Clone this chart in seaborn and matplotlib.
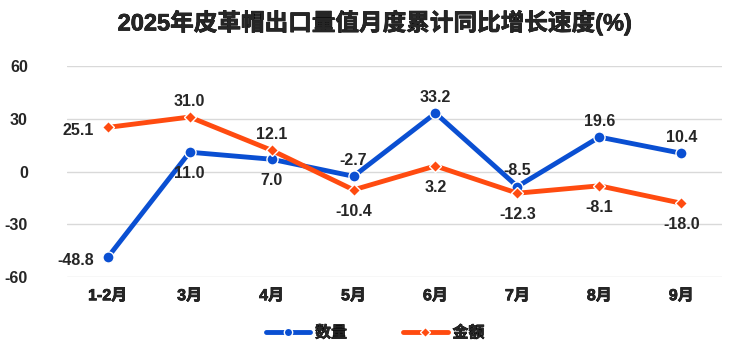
import seaborn as sns
import pandas as pd
import matplotlib.pyplot as plt
import matplotlib.patheffects as pe

months = ['1-2月', '3月', '4月', '5月', '6月', '7月', '8月', '9月']
qty = [-48.8, 11.0, 7.0, -2.7, 33.2, -8.5, 19.6, 10.4]
amount = [25.1, 31.0, 12.1, -10.4, 3.2, -12.3, -8.1, -18.0]

# label placement per point
qty_pos = ['left', 'below', 'below', 'above', 'above', 'above', 'above', 'above']
amt_pos = ['left', 'above', 'above', 'below', 'below', 'below', 'below', 'below']

sns.set_theme(style='white')
plt.rcParams['font.family'] = ['Liberation Sans', 'Noto Sans CJK SC', 'DejaVu Sans']
plt.rcParams['axes.unicode_minus'] = False

# fake heavier strokes, the CJK font has no bold face here
heavy = [pe.withStroke(linewidth=0.5, foreground='black')]

df = pd.DataFrame({'月份': months * 2,
                   '值': qty + amount,
                   '系列': ['数量'] * len(months) + ['金额'] * len(months)})

fig = plt.figure(figsize=(7.5, 3.53), dpi=100)
ax = fig.add_axes([0.089, 0.215, 0.874, 0.598])

colors = {'数量': '#0A4FD2', '金额': '#FF4B10'}
sns.lineplot(data=df, x='月份', y='值', hue='系列', style='系列',
             markers={'数量': 'o', '金额': 'D'}, dashes=False,
             palette=colors, linewidth=3.5, ax=ax, sort=False,
             markersize=8, markeredgecolor='white', markeredgewidth=1,
             clip_on=False)
for line in ax.lines:
    if line.get_marker() == 'D':
        line.set_markersize(6.5)

ax.set_ylim(-60, 60)
ax.set_xlim(-0.5, 7.5)
ax.set_yticks([-60, -30, 0, 30, 60])
ax.yaxis.grid(True, color='#d9d9d9', linewidth=1)
ax.set_axisbelow(True)
for s in ax.spines.values():
    s.set_visible(False)
ax.set_xlabel('')
ax.set_ylabel('')
ax.tick_params(axis='both', length=0, labelsize=11.5, pad=8)
ax.tick_params(axis='y', pad=28)
for t in ax.get_xticklabels() + ax.get_yticklabels():
    t.set_fontweight('bold')
for t in ax.get_xticklabels():
    t.set_path_effects(heavy)

def put_labels(vals, pos):
    for i, (v, p) in enumerate(zip(vals, pos)):
        if p == 'left':
            off, ha, va = (-10, -2), 'right', 'center'
        elif p == 'above':
            off, ha, va = (0, 6), 'center', 'bottom'
        else:
            off, ha, va = (0, -10), 'center', 'top'
        ax.annotate(f'{v:.1f}', (i, v), xytext=off, textcoords='offset points',
                    ha=ha, va=va, fontsize=11.5, fontweight='bold')

put_labels(qty, qty_pos)
put_labels(amount, amt_pos)

fig.suptitle('2025年皮革帽出口量值月度累计同比增长速度(%)', fontsize=17,
             fontweight='bold', y=0.972, path_effects=heavy)

handles, labels = ax.get_legend_handles_labels()
for h in handles:
    h.set_markersize(6 if h.get_marker() == 'o' else 5)
ax.get_legend().remove()
leg = fig.legend(handles, labels, loc='center', bbox_to_anchor=(0.5, 0.057),
                 ncol=2, frameon=False, prop={'size': 11.5, 'weight': 'bold'},
                 handlelength=2.8, handletextpad=0.3, columnspacing=3.5)
for t in leg.get_texts():
    t.set_path_effects(heavy)

fig.savefig('out.png', dpi=100)
